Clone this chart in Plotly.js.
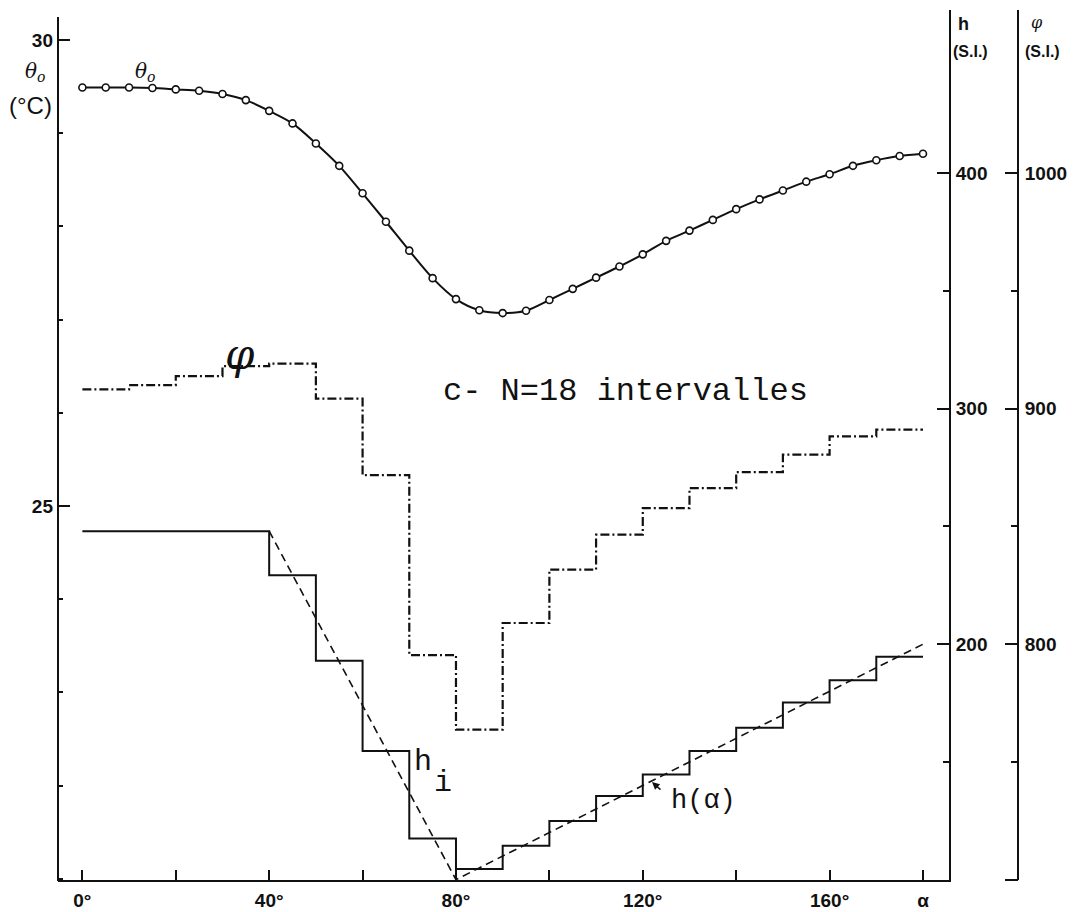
<!DOCTYPE html>
<html>
<head>
<meta charset="utf-8">
<script src="https://cdn.plot.ly/plotly-3.0.1.min.js"></script>
<style>html,body{margin:0;padding:0;background:#fff;}#chart{width:1074px;height:912px;}</style>
</head>
<body>
<div id="chart"></div>
<script>
// ---- data ----
const alphaPts = [0,5,10,15,20,25,30,35,40,45,50,55,60,65,70,75,80,85,90,95,100,105,110,115,120,125,130,135,140,145,150,155,160,165,170,175,180];
const thetaO = [29.49,29.49,29.49,29.485,29.47,29.455,29.42,29.355,29.24,29.105,28.89,28.65,28.355,28.05,27.74,27.445,27.22,27.10,27.07,27.095,27.21,27.33,27.45,27.57,27.70,27.845,27.955,28.07,28.185,28.29,28.385,28.48,28.56,28.65,28.71,28.755,28.78];

const alphaEdges = [0,10,20,30,40,50,60,70,80,90,100,110,120,130,140,150,160,170,180];
const phiSteps = [908.2,910.0,913.9,918.1,919.2,904.3,871.8,795.4,763.7,809.0,831.7,846.5,857.8,866.3,873.1,880.5,888.3,891.1];
const hSteps = [248,248,248,248,229.3,193.0,154.6,117.5,104.5,114.4,124.9,135.5,144.7,154.6,164.5,175.2,184.7,194.7];

const alphaH = [40,80,180];
const hCont = [248,100,200];

const xTickVals = [0,40,80,120,160,180];
const xTickText = ['0°','40°','80°','120°','160°','α'];
const xMinorVals = [20,60,100,140];
const thetaTickVals = [25,30];
const hTickVals = [200,300,400];
const hMinorVals = [150,250,350];
const phiTickVals = [800,900,1000];
const phiMinorVals = [750,850,950];

// ---- layout helpers (pixel -> paper) ----
const W = 1074, H = 912, ML = 58, MR = 40, MT = 10, MB = 32;
const PW = W - ML - MR, PH = H - MT - MB;
const px = v => (v - ML) / PW;
const py = v => (H - MB - v) / PH;

const ink = '#111';
const stepY = s => s.concat([s[s.length - 1]]);

const traces = [
  {x: alphaPts, y: thetaO, type: 'scatter', mode: 'lines+markers', yaxis: 'y',
   line: {color: ink, width: 2, shape: 'spline', smoothing: 0.8},
   marker: {symbol: 'circle', size: 7, color: '#fff', line: {color: ink, width: 1.6}},
   hoverinfo: 'skip', showlegend: false},
  {x: alphaEdges, y: stepY(phiSteps), type: 'scatter', mode: 'lines', yaxis: 'y3',
   line: {color: ink, width: 2.2, shape: 'hv', dash: '9px,3px,2px,3px'}, showlegend: false, hoverinfo: 'skip'},
  {x: alphaEdges, y: stepY(hSteps), type: 'scatter', mode: 'lines', yaxis: 'y2',
   line: {color: ink, width: 2, shape: 'hv'}, showlegend: false, hoverinfo: 'skip'},
  {x: alphaH, y: hCont, type: 'scatter', mode: 'lines', yaxis: 'y2',
   line: {color: ink, width: 1.6, dash: '8px,5px'}, showlegend: false, hoverinfo: 'skip'}
];

const tickFont = {family: 'Liberation Sans, Arial, sans-serif', size: 19, color: ink, weight: 'bold'};
const xDomEnd = px(949);

function label(cx, cy, text, font) {
  return {xref: 'paper', yref: 'paper', x: px(cx), y: py(cy), text: text, showarrow: false,
          xanchor: 'center', yanchor: 'middle', font: font};
}
const serifIt = s => ({family: 'DejaVu Serif, serif', size: s, color: ink, style: 'italic'});
const sans = (s, w) => ({family: 'Liberation Sans, Arial, sans-serif', size: s, color: ink, weight: w || 'normal'});
const mono = s => ({family: 'Liberation Mono, Courier New, monospace', size: s, color: ink});

const layout = {
  width: W, height: H,
  margin: {l: ML, r: MR, t: MT, b: MB, pad: 0},
  paper_bgcolor: '#fff', plot_bgcolor: '#fff',
  showlegend: false,
  xaxis: {domain: [0, xDomEnd], range: [-5.22, 185.57], showgrid: false, zeroline: false,
    showline: true, linecolor: ink, linewidth: 2,
    tickmode: 'array', tickvals: xTickVals, ticktext: xTickText,
    ticks: 'inside', ticklen: 10, tickwidth: 2, tickcolor: ink,
    tickfont: tickFont, ticklabelstandoff: 2,
    minor: {ticks: 'inside', tickvals: xMinorVals, ticklen: 10, tickwidth: 2, tickcolor: ink}},
  yaxis: {range: [20.987, 30.322], showgrid: false, zeroline: false,
    showline: false,
    tickmode: 'array', tickvals: thetaTickVals,
    ticks: 'inside', ticklen: 12, tickwidth: 2, tickcolor: ink,
    tickfont: tickFont, ticklabelstandoff: 4,
    minor: {ticks: 'inside', dtick: 1, ticklen: 5, tickwidth: 2, tickcolor: ink}},
  yaxis2: {overlaying: 'y', side: 'right', anchor: 'x', range: [99.85, 469.36],
    showgrid: false, zeroline: false, showline: true, linecolor: ink, linewidth: 2,
    tickmode: 'array', tickvals: hTickVals,
    ticks: 'inside', ticklen: 12, tickwidth: 2, tickcolor: ink,
    tickfont: tickFont, ticklabelstandoff: 1,
    minor: {ticks: 'inside', tickvals: hMinorVals, ticklen: 6, tickwidth: 2, tickcolor: ink}},
  yaxis3: {overlaying: 'y', side: 'right', anchor: 'free', position: px(1018), range: [699.85, 1069.36],
    showgrid: false, zeroline: false, showline: true, linecolor: ink, linewidth: 2,
    tickmode: 'array', tickvals: phiTickVals,
    ticks: 'inside', ticklen: 12, tickwidth: 2, tickcolor: ink,
    tickfont: tickFont, ticklabelstandoff: 2,
    minor: {ticks: 'inside', tickvals: phiMinorVals, ticklen: 6, tickwidth: 2, tickcolor: ink}},
  shapes: [
    // left axis spine (shorter at the top, as in the reference)
    {type: 'line', xref: 'paper', yref: 'paper', x0: 0, x1: 0, y0: py(881), y1: py(17),
     line: {color: ink, width: 2}},
    // foot of the phi axis
    {type: 'line', xref: 'paper', yref: 'paper', x0: px(1005), x1: px(1018), y0: py(880), y1: py(880),
     line: {color: ink, width: 2}}
  ],
  annotations: [
    // left axis title
    label(35, 72, 'θ<sub>o</sub>', serifIt(20)),
    label(30, 105, '(°C)', sans(24)),
    // right axis titles
    label(963, 24, 'h', sans(18, 'bold')),
    label(970, 52, '(S.I.)', sans(16, 'bold')),
    label(1037, 23, 'φ', serifIt(16)),
    label(1042, 52, '(S.I.)', sans(16, 'bold')),
    // in-plot labels
    label(145, 72, 'θ<sub>o</sub>', serifIt(20)),
    label(240, 354, 'φ', serifIt(42)),
    label(625, 392, 'c- N=18 intervalles', mono(32)),
    label(423, 762, 'h', mono(30)),
    label(443, 783, 'i', mono(30)),
    label(703, 801, 'h(α)', mono(27)),
    {xref: 'paper', yref: 'paper', x: px(652), y: py(782), text: '', showarrow: true,
     ax: 10, ay: 9, arrowhead: 2, arrowsize: 1, arrowwidth: 1.5, arrowcolor: ink}
  ]
};

Plotly.newPlot('chart', traces, layout, {displayModeBar: false, staticPlot: true});
</script>
</body>
</html>
